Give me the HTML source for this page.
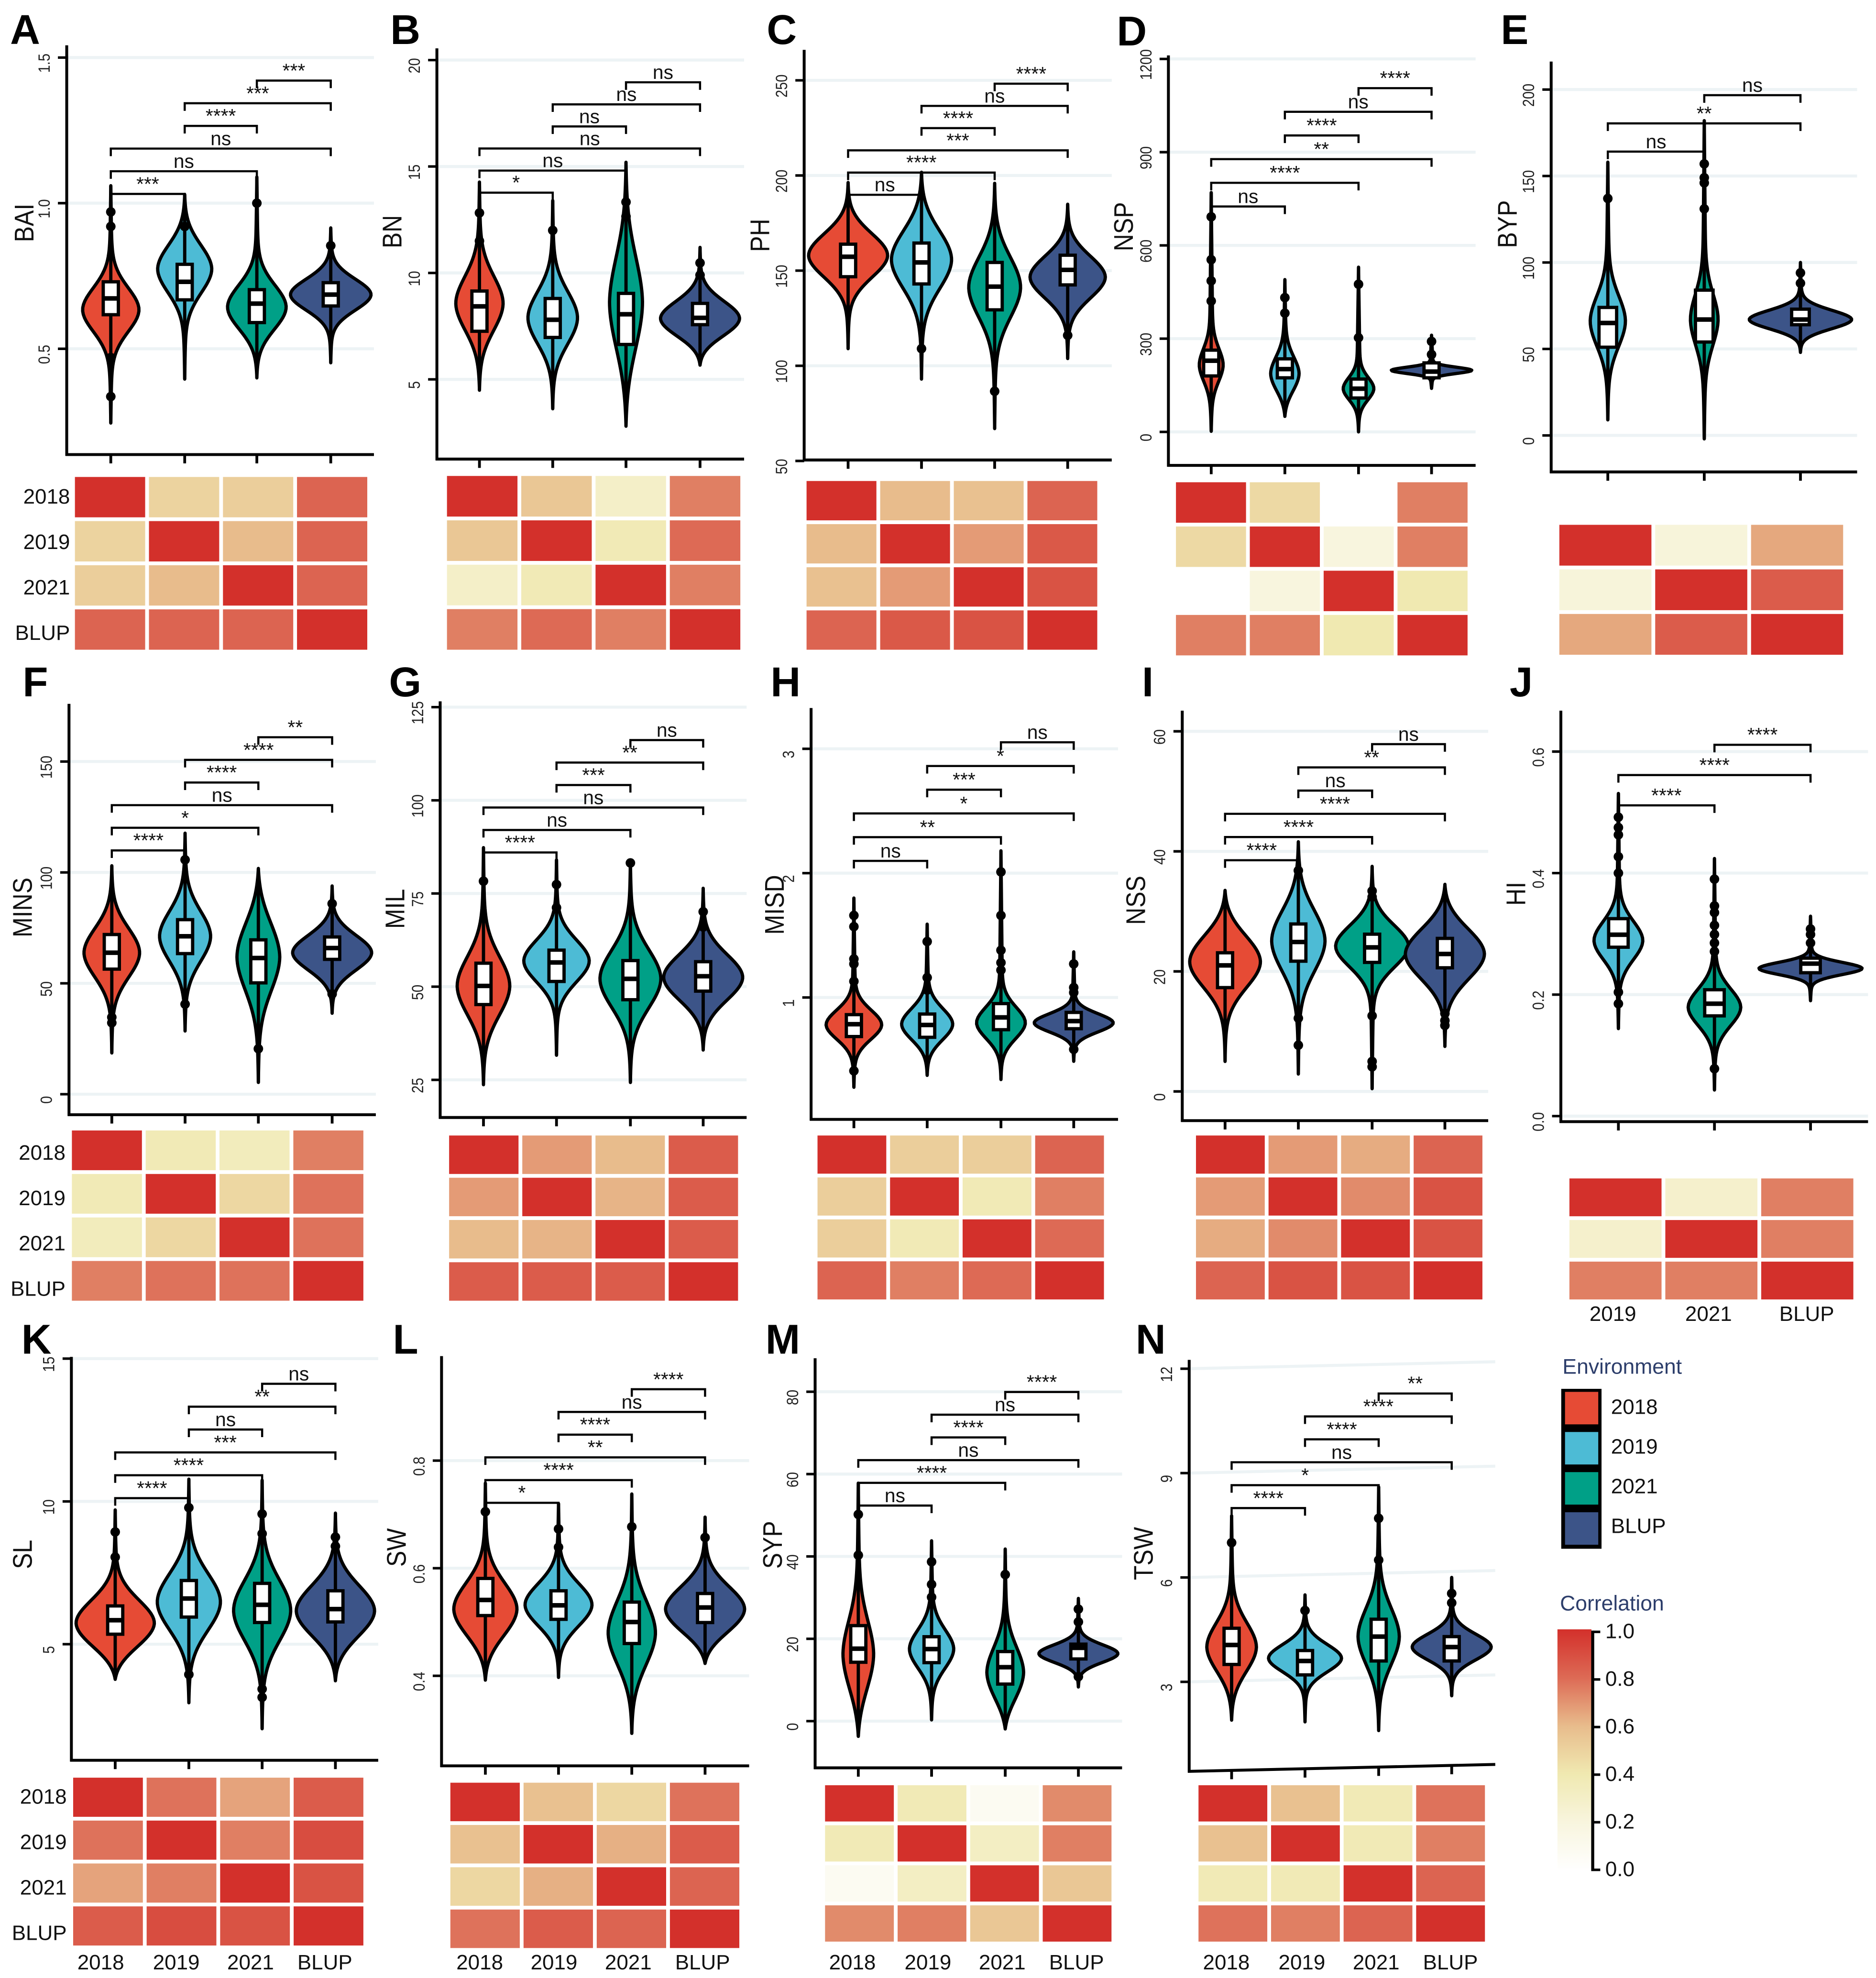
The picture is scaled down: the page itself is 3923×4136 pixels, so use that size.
<!DOCTYPE html>
<html lang="en">
<head>
<meta charset="utf-8">
<title>Violin and correlation panels</title>
<style>
html,body{margin:0;padding:0;background:#fff;}
svg{display:block;font-family:"Liberation Sans",sans-serif;}
</style>
</head>
<body>
<svg id="figure" xmlns="http://www.w3.org/2000/svg" width="3923" height="4136" viewBox="0 0 1490 1570.9">
<defs>
<linearGradient id="corrGrad" x1="0" y1="1" x2="0" y2="0">
<stop offset="0" stop-color="#ffffff"/><stop offset="0.2" stop-color="#f8f5de"/><stop offset="0.4" stop-color="#f0e9b1"/><stop offset="0.6" stop-color="#e8bc8c"/><stop offset="0.8" stop-color="#dd6a55"/><stop offset="1" stop-color="#d3302b"/>
</linearGradient>
</defs>
<rect width="1490" height="1570.9" fill="#fff"/>
</svg>
<script>
/* ---------- data ---------- */
const groups4 = ['2018','2019','2021','BLUP'];
const groups3 = ['2019','2021','BLUP'];
const groupColor = {'2018':'#e64b35','2019':'#4dbbd5','2021':'#00a087','BLUP':'#3c5488'};
const legendTicks = [0,0.2,0.4,0.6,0.8,1];

const BAI_ticks=[0.5,1.0,1.5];
const BAI_lo=[.245,.396,.40,.452];
const BAI_q1=[.617,.668,.59,.647];
const BAI_med=[.673,.73,.655,.686];
const BAI_q3=[.73,.79,.703,.727];
const BAI_hi=[1.06,1.03,1.09,.915];
const BAI_mode=[.634,.774,.643,.686];
const BAI_dens=[.7,.67,.73,1.02];
const BAI_out=[[.97,.92,.336,.47],[.92],[1.0],[.854]];
const BAI_sig=['***','ns','ns','****','***','***'];
const BAI_corr=[.5,.52,.82,.6,.82,.82];

const BN_ticks=[5,10,15,20];
const BN_lo=[4.49,3.62,2.8,5.67];
const BN_q1=[7.26,6.97,6.64,7.57];
const BN_med=[8.43,7.8,8.06,7.89];
const BN_q3=[9.15,8.8,9.04,8.57];
const BN_hi=[14.27,13.4,15.2,11.2];
const BN_mode=[8.57,7.89,8.6,7.86];
const BN_dens=[.58,.61,.39,1];
const BN_out=[[12.82,11.5],[12],[13.33,12.65],[10.47,9.9]];
const BN_sig=['*','ns','ns','ns','ns','ns'];
const BN_corr=[.55,.3,.75,.38,.8,.75];
const BN_sp=[.95,.95,1.25,1.15];

const PH_ticks=[50,100,150,200,250];
const PH_lo=[109,93,67,103.8];
const PH_q1=[146.8,143,129.4,142.5];
const PH_med=[157.3,154.3,141.6,150.4];
const PH_q3=[163.9,164.5,154.3,158.1];
const PH_hi=[196.3,201.7,195.9,184.9];
const PH_mode=[158,155.8,141.3,146.6];
const PH_dens=[1,.75,.64,.95];
const PH_out=[[],[109],[86.6],[116]];
const PH_sig=['ns','****','***','****','ns','****'];
const PH_corr=[.6,.58,.82,.68,.86,.88];
const PH_sp=[.95,1.0,.9,1.0];

const NSP_ticks=[0,300,600,900,1200];
const NSP_lo=[2,50,0,140];
const NSP_q1=[180,174,109,174];
const NSP_med=[229,202,139,194];
const NSP_q3=[263,235,170,222];
const NSP_hi=[770,490,530,311];
const NSP_mode=[215,187,139,198];
const NSP_dens=[.27,.33,.36,1.02];
const NSP_out=[[692,554,486,421],[432,382],[475,303],[291,249]];
const NSP_sig=['ns','****','**','****','ns','****'];
const NSP_corr=[.47,0,.75,.2,.75,.4];
const NSP_sp=[.9,1.25,.83,.3];

const BYP_ticks=[0,50,100,150,200];
const BYP_lo=[9,-2,48];
const BYP_q1=[51,54,64];
const BYP_med=[65,67,67];
const BYP_q3=[74,84,73];
const BYP_hi=[158,182,100];
const BYP_mode=[66,67,67];
const BYP_dens=[.42,.32,1.31];
const BYP_out=[[137],[157,149,146,131],[94,88]];
const BYP_sig=['ns','**','ns'];
const BYP_corr=[.22,.65,.85];
const BYP_sp=[.9,.7,.85];

const MINS_ticks=[0,50,100,150];
const MINS_lo=[18.6,28.5,5.3,36.5];
const MINS_q1=[56.4,63.4,50.2,60.8];
const MINS_med=[63.8,71.2,61.4,65.9];
const MINS_q3=[72,78.7,69.6,70.9];
const MINS_hi=[103,117.7,101.8,93.9];
const MINS_mode=[63.8,71.2,61.9,63.8];
const MINS_dens=[.69,.63,.52,1];
const MINS_out=[[32.2,34.7],[105.7,40.6],[20.5],[85.9,45.2]];
const MINS_sig=['****','*','ns','****','****','**'];
const MINS_corr=[.38,.35,.75,.48,.78,.78];
const MINS_sp=[1.0,1.05,1.1,1.1];

const MIL_ticks=[25,50,75,100,125];
const MIL_lo=[23.7,31.6,24.3,33];
const MIL_q1=[45.2,51.4,46.5,48.8];
const MIL_med=[50.2,56.5,52.1,52.8];
const MIL_q3=[56.3,59.8,57,56.7];
const MIL_hi=[87.3,84,83.8,76.4];
const MIL_mode=[50.2,56.9,52.1,52.5];
const MIL_dens=[.65,.82,.76,1];
const MIL_out=[[78.3],[77.4,71.2],[83.2],[70.1,66]];
const MIL_sig=['****','ns','ns','***','**','ns'];
const MIL_corr=[.68,.6,.85,.62,.85,.85];
const MIL_sp=[1.0,.95,1.05,1.1];

const MISD_ticks=[1,2,3];
const MISD_lo=[.278,.374,.34,.487];
const MISD_q1=[.686,.68,.741,.749];
const MISD_med=[.785,.779,.84,.81];
const MISD_q3=[.862,.867,.951,.88];
const MISD_hi=[1.8,1.59,2.18,1.367];
const MISD_mode=[.781,.785,.796,.796];
const MISD_dens=[.69,.63,.6,1];
const MISD_out=[[1.66,1.57,1.31,1.27,1.13,.41],[1.45,1.16,1.06],[2.01,1.66,1.38,1.28,1.22],[1.27,1.08,1.04,.583]];
const MISD_sig=['ns','**','*','***','*','ns'];
const MISD_corr=[.52,.52,.82,.38,.75,.8];
const MISD_sp=[.95,.95,.85,.8];

const NSS_ticks=[0,20,40,60];
const NSS_lo=[5,2.9,.46,7.5];
const NSS_q1=[17.3,21.7,21.5,20.6];
const NSS_med=[21,24.9,24,22.9];
const NSS_q3=[23.1,27.9,26.2,25.5];
const NSS_hi=[33.5,41.6,37.5,34.5];
const NSS_mode=[21.6,25.1,24.2,22.9];
const NSS_dens=[.89,.66,.92,1];
const NSS_out=[[],[36.8,12.2,7.7],[33.4,32.4,12.6,5,4.1],[13,11.8,11]];
const NSS_sig=['****','****','****','ns','**','ns'];
const NSS_corr=[.68,.64,.82,.72,.88,.88];
const NSS_sp=[1.05,1.15,1.05,1.2];

const HI_ticks=[0,0.2,0.4,0.6];
const HI_lo=[.144,.043,.19];
const HI_q1=[.278,.165,.236];
const HI_med=[.2986,.185,.251];
const HI_q3=[.325,.208,.26];
const HI_hi=[.531,.424,.329];
const HI_mode=[.289,.179,.243];
const HI_dens=[.6,.65,1.32];
const HI_out=[[.492,.475,.463,.427,.40,.204,.185],[.39,.346,.335,.314,.299,.285,.271,.078],[.308,.299,.285]];
const HI_sig=['****','****','****'];
const HI_corr=[.28,.75,.75];
const HI_sp=[.95,1.0,.6];

const SL_ticks=[5,10,15];
const SL_lo=[3.77,2.95,2.04,3.72];
const SL_q1=[5.35,5.95,5.76,5.78];
const SL_med=[5.84,6.6,6.38,6.23];
const SL_q3=[6.34,7.23,7.13,6.87];
const SL_hi=[9.7,10.78,10.74,9.59];
const SL_mode=[5.74,6.48,6.18,6.17];
const SL_dens=[.99,.79,.71,.99];
const SL_out=[[8.93,8.05],[9.78,3.94],[9.56,8.87,3.43,3.14],[8.75,8.43]];
const SL_sig=['****','****','***','ns','**','ns'];
const SL_corr=[.78,.66,.85,.75,.9,.88];
const SL_sp=[1.15,1.1,1.1,1.15];

const SW_ticks=[0.4,0.6,0.8];
const SW_lo=[.392,.397,.293,.423];
const SW_q1=[.512,.505,.46,.499];
const SW_med=[.541,.531,.50,.527];
const SW_q3=[.581,.558,.537,.553];
const SW_hi=[.758,.72,.738,.695];
const SW_mode=[.524,.532,.48,.524];
const SW_dens=[.79,.84,.58,1];
const SW_out=[[.705],[.673,.639],[.677],[.657]];
const SW_sig=['*','****','**','****','ns','****'];
const SW_corr=[.58,.48,.78,.63,.85,.82];
const SW_sp=[1.0,1.05,1.1,1.1];

const SYP_ticks=[0,20,40,60,80];
const SYP_lo=[-3.7,.3,-1.9,8.3];
const SYP_q1=[14.3,14.2,9,15.1];
const SYP_med=[17.6,17.5,13.1,17.8];
const SYP_q3=[23.2,20.5,16.9,18.7];
const SYP_hi=[57.8,43.8,41.8,29.8];
const SYP_mode=[16.2,17.5,11.8,16.4];
const SYP_dens=[.36,.54,.44,1];
const SYP_out=[[50.2,40.3],[38.7,33.2,30.1],[35.6],[27.2,24.1,10.8]];
const SYP_sig=['ns','****','ns','****','ns','****'];
const SYP_corr=[.38,.08,.72,.32,.75,.55];
const SYP_sp=[1.3,1.05,1.1,.85];

const TSW_ticks=[3,6,9,12];
const TSW_lo=[1.9,1.85,1.6,2.6];
const TSW_q1=[3.5,3.2,3.6,3.6];
const TSW_med=[4.06,3.6,4.3,4];
const TSW_q3=[4.54,3.9,4.8,4.3];
const TSW_hi=[7.77,5.5,8.6,6];
const TSW_mode=[4.0,3.68,4.3,4];
const TSW_dens=[.61,.92,.5,1];
const TSW_out=[[7],[5.05],[7.7,6.5],[5.54,5.27]];
const TSW_sig=['****','*','ns','****','****','**'];
const TSW_corr=[.58,.38,.78,.38,.75,.82];
const TSW_sp=[.95,.8,.95,.75];

/* ---------- layout (pixels in a 1490-wide canvas) ---------- */
const panels=[
{id:'a',L:'A',lx:8,ly:35,t:'BAI',tx:19,ty:177,ax:53,top:36,bot:361,right:297,vx:[88,146.7,204,262.7],yA:[0.5,277],yB:[1.5,45.7],br:[154,-18],hm:[59.5,378.8,291.7,516],rows:55.6,rowY:394,ticks:BAI_ticks,lo:BAI_lo,q1:BAI_q1,med:BAI_med,q3:BAI_q3,hi:BAI_hi,mode:BAI_mode,dens:BAI_dens,out:BAI_out,sig:BAI_sig,corr:BAI_corr},
{id:'b',L:'B',lx:310,ly:35,t:'BN',tx:311.3,ty:184,ax:347,top:38.4,bot:364.6,right:591,vx:[380.8,439,497.2,556],yA:[5,301.3],yB:[20,47.7],br:[153,-17.53],hm:[355,378,588,516],ticks:BN_ticks,lo:BN_lo,q1:BN_q1,med:BN_med,q3:BN_q3,hi:BN_hi,mode:BN_mode,dens:BN_dens,out:BN_out,sig:BN_sig,corr:BN_corr,sp:BN_sp},
{id:'c',L:'C',lx:609,ly:35,t:'PH',tx:603.5,ty:186.9,ax:638.7,top:39.6,bot:365.3,right:883,vx:[673.6,731.9,790,848],yA:[100,290.5],yB:[250,63.8],br:[154.7,-17.65],hm:[640.6,382,871.5,516],ticks:PH_ticks,lo:PH_lo,q1:PH_q1,med:PH_med,q3:PH_q3,hi:PH_hi,mode:PH_mode,dens:PH_dens,out:PH_out,sig:PH_sig,corr:PH_corr,sp:PH_sp},
{id:'d',L:'D',lx:887,ly:36,t:'NSP',tx:892.3,ty:180,ax:928,top:44,bot:369.6,right:1172,vx:[962,1020.5,1079,1137],yA:[0,343],yB:[1200,46.8],br:[164,-18.8],hm:[934,383,1165.6,520.5],ticks:NSP_ticks,lo:NSP_lo,q1:NSP_q1,med:NSP_med,q3:NSP_q3,hi:NSP_hi,mode:NSP_mode,dens:NSP_dens,out:NSP_out,sig:NSP_sig,corr:NSP_corr,sp:NSP_sp},
{id:'e',L:'E',lx:1192,ly:35,t:'BYP',tx:1197,ty:178,ax:1232,top:48.9,bot:374.8,right:1475,vx:[1277,1353.6,1430],yA:[0,345.8],yB:[200,71.1],br:[120.4,-22.4],hm:[1238.5,416.8,1463.9,520],g:groups3,bw:14,ticks:BYP_ticks,lo:BYP_lo,q1:BYP_q1,med:BYP_med,q3:BYP_q3,hi:BYP_hi,mode:BYP_mode,dens:BYP_dens,out:BYP_out,sig:BYP_sig,corr:BYP_corr,sp:BYP_sp},
{id:'f',L:'F',lx:18,ly:553,t:'MINS',tx:17.8,ty:720.7,ax:54.8,top:559,bot:885.3,right:298.5,vx:[88.8,147,205.2,263.8],yA:[0,869],yB:[150,604.8],br:[675.4,-17.98],hm:[57.1,897.8,288.6,1033],rows:52,rowY:915,ticks:MINS_ticks,lo:MINS_lo,q1:MINS_q1,med:MINS_med,q3:MINS_q3,hi:MINS_hi,mode:MINS_mode,dens:MINS_dens,out:MINS_out,sig:MINS_sig,corr:MINS_corr,sp:MINS_sp},
{id:'g',L:'G',lx:309,ly:553,t:'MIL',tx:313.7,ty:721.8,ax:349.6,top:557,bot:887.5,right:593,vx:[384,442,500.7,558.5],yA:[25,857.6],yB:[125,561.6],br:[677,-17.85],hm:[356.7,901.8,586.2,1033],ticks:MIL_ticks,lo:MIL_lo,q1:MIL_q1,med:MIL_med,q3:MIL_q3,hi:MIL_hi,mode:MIL_mode,dens:MIL_dens,out:MIL_out,sig:MIL_sig,corr:MIL_corr,sp:MIL_sp},
{id:'h',L:'H',lx:612,ly:553,t:'MISD',tx:615,ty:718.6,ax:644.2,top:562.3,bot:889,right:888,vx:[678.2,736.4,795,852.8],yA:[1,792.2],yB:[3,594.7],br:[683.7,-18.84],hm:[649.3,901.8,876.8,1032],ticks:MISD_ticks,lo:MISD_lo,q1:MISD_q1,med:MISD_med,q3:MISD_q3,hi:MISD_hi,mode:MISD_mode,dens:MISD_dens,out:MISD_out,sig:MISD_sig,corr:MISD_corr,sp:MISD_sp},
{id:'i',L:'I',lx:907,ly:553,t:'NSS',tx:902,ty:715,ax:939,top:564.4,bot:890,right:1182,vx:[973,1031.2,1089.8,1147.6],yA:[0,866.8],yB:[60,580.8],br:[683.2,-18.44],hm:[949.9,901.8,1177.4,1032],ticks:NSS_ticks,lo:NSS_lo,q1:NSS_q1,med:NSS_med,q3:NSS_q3,hi:NSS_hi,mode:NSS_mode,dens:NSS_dens,out:NSS_out,sig:NSS_sig,corr:NSS_corr,sp:NSS_sp},
{id:'j',L:'J',lx:1199,ly:553,t:'HI',tx:1204,ty:709.8,ax:1239.7,top:564.4,bot:890.8,right:1483.7,vx:[1285.4,1361.7,1438],yA:[0,886.4],yB:[0.6,596.9],br:[639.6,-24.05],hm:[1246.5,935.9,1472,1032],g:groups3,bw:15.5,cols:[1281,1357,1435],colY:1049,ticks:HI_ticks,lo:HI_lo,q1:HI_q1,med:HI_med,q3:HI_q3,hi:HI_hi,mode:HI_mode,dens:HI_dens,out:HI_out,sig:HI_sig,corr:HI_corr,sp:HI_sp},
{id:'k',L:'K',lx:17,ly:1075,t:'SL',tx:17.8,ty:1234.5,ax:56.7,top:1077.6,bot:1398,right:300.4,vx:[91.5,150,208.2,266.4],yA:[5,1305.8],yB:[15,1079],br:[1189.8,-18.16],hm:[58.1,1411.8,288.6,1545.1],rows:53,rowY:1426.5,cols:[80,140,199,258],colY:1564,ticks:SL_ticks,lo:SL_lo,q1:SL_q1,med:SL_med,q3:SL_q3,hi:SL_hi,mode:SL_mode,dens:SL_dens,out:SL_out,sig:SL_sig,corr:SL_corr,sp:SL_sp},
{id:'l',L:'L',lx:312,ly:1075,t:'SW',tx:314.8,ty:1229,ax:350.7,top:1077,bot:1402.4,right:595,vx:[385.5,443.6,501.8,560],yA:[0.4,1330.9],yB:[0.8,1160],br:[1193.5,-18.04],hm:[357.7,1415.8,587.2,1547.1],cols:[381,440,499,558],colY:1564,ticks:SW_ticks,lo:SW_lo,q1:SW_q1,med:SW_med,q3:SW_q3,hi:SW_hi,mode:SW_mode,dens:SW_dens,out:SW_out,sig:SW_sig,corr:SW_corr,sp:SW_sp},
{id:'m',L:'M',lx:608,ly:1075,t:'SYP',tx:613.5,ty:1226.9,ax:647.4,top:1078.7,bot:1404,right:891.2,vx:[681.7,739.9,798.4,856.5],yA:[0,1366.9],yB:[80,1105.3],br:[1195.7,-18.04],hm:[655.3,1417.8,882.8,1542],cols:[677,737,796,855],colY:1564,ticks:SYP_ticks,lo:SYP_lo,q1:SYP_q1,med:SYP_med,q3:SYP_q3,hi:SYP_hi,mode:SYP_mode,dens:SYP_dens,out:SYP_out,sig:SYP_sig,corr:SYP_corr,sp:SYP_sp},
{id:'n',L:'N',lx:902,ly:1075,t:'TSW',tx:908,ty:1233.8,ax:944.5,top:1080,bot:1406.8,right:1187.6,tilt:-5.5,vx:[978.2,1036.5,1095,1153],yA:[3,1335.7],yB:[12,1087],br:[1197.7,-18.2],hm:[951.9,1417.8,1179.4,1542],cols:[974,1034,1093,1152],colY:1564,ticks:TSW_ticks,lo:TSW_lo,q1:TSW_q1,med:TSW_med,q3:TSW_q3,hi:TSW_hi,mode:TSW_mode,dens:TSW_dens,out:TSW_out,sig:TSW_sig,corr:TSW_corr,sp:TSW_sp}
];

/* ---------- helpers ---------- */
const NS='http://www.w3.org/2000/svg';
const svg=document.getElementById('figure');
function mk(tag,attrs,parent,txt){
  const e=document.createElementNS(NS,tag);
  for(const k in attrs)e.setAttribute(k,attrs[k]);
  if(txt!==undefined)e.textContent=txt;
  parent.appendChild(e);
  return e;
}
function yScale(p){
  const k=(p.yB[1]-p.yA[1])/(p.yB[0]-p.yA[0]);
  return v=>p.yA[1]+(v-p.yA[0])*k;
}
const corrStops=[[0,[255,255,255]],[.2,[248,245,222]],[.4,[240,233,177]],[.6,[232,188,140]],[.8,[221,106,85]],[1,[211,48,43]]];
function corrColor(v){
  for(let i=1;i<corrStops.length;i++){
    if(v<=corrStops[i][0]){
      const a=corrStops[i-1],b=corrStops[i],t=(v-a[0])/(b[0]-a[0]);
      return 'rgb('+a[1].map((c,j)=>Math.round(c+(b[1][j]-c)*t)).join(',')+')';
    }
  }
  return 'rgb(211,48,43)';
}
function violinPath(p,i,y,cx){
  const lo=p.lo[i],hi=p.hi[i],m=p.mode[i],n=70;
  const s=(p.sp?p.sp[i]:0.95)*(p.q3[i]-p.q1[i]);
  const hw=v=>{
    const d=Math.abs(v-m),R=(v>m?hi-m:m-lo)||1e-6,f=Math.min(1,d/R);
    return 30*p.dens[i]*Math.exp(-Math.pow(d/s,1.95))*(1-Math.pow(f,4))+1.4*(1-f);
  };
  let right='',left='';
  for(let k=0;k<=n;k++){
    const v=hi+(lo-hi)*k/n,w=hw(v);
    right+=(k?'L':'M')+(cx+w).toFixed(2)+' '+y(v).toFixed(2);
    left='L'+(cx-w).toFixed(2)+' '+y(v).toFixed(2)+left;
  }
  return right+left+'Z';
}

/* ---------- draw panels ---------- */
panels.forEach(p=>{
  const g=p.g||groups4,y=yScale(p),tilt=p.tilt||0,pairs=g.length===4?[[0,1],[0,2],[0,3],[1,2],[1,3],[2,3]]:[[0,1],[0,2],[1,2]];
  const root=mk('g',{},svg);
  
  

  const letter=mk('text',{x:p.lx,y:p.ly,'font-size':33,'font-weight':'bold',fill:'#000'},root,p.L);
  
  

  p.ticks.forEach(t=>{
    const yy=y(t);
    const grid=mk('line',{x1:p.ax,y1:yy,x2:p.right,y2:yy+tilt,stroke:'#edf3f5','stroke-width':2.4},root);
    
    
    const tick=mk('line',{x1:p.ax-7,y1:yy,x2:p.ax,y2:yy,stroke:'#000','stroke-width':2},root);
    
    
    const lab=mk('text',{transform:'translate('+(p.ax-13.5)+','+(yy+4.5)+') rotate(-90) scale(1,1.18)','text-anchor':'middle','font-size':11,fill:'#222'},root,String(t%1===0&&p.ticks.some(q=>q%1!==0)?t.toFixed(1):t));
    
    
  });

  const yAxis=mk('line',{x1:p.ax,y1:p.top,x2:p.ax,y2:p.bot+1,stroke:'#000','stroke-width':2.3},root);
  
  
  const xAxis=mk('line',{x1:p.ax-1,y1:p.bot,x2:p.right,y2:p.bot+tilt,stroke:'#000','stroke-width':2.3},root);
  
  
  const title=mk('text',{transform:'translate('+(p.tx+7.5)+','+p.ty+') rotate(-90) scale(1,1.14)','text-anchor':'middle','font-size':19,fill:'#111'},root,p.t);
  
  

  g.forEach((name,i)=>{
    const cx=p.vx[i],bw=p.bw||12;
    const xt=mk('line',{x1:cx,y1:p.bot+tilt*(cx-p.ax)/(p.right-p.ax),x2:cx,y2:p.bot+7+tilt*(cx-p.ax)/(p.right-p.ax),stroke:'#000','stroke-width':2.2},root);
    
    
    const vio=mk('path',{d:violinPath(p,i,y,cx),fill:groupColor[name],stroke:'#000','stroke-width':2.6,'stroke-linejoin':'round'},root);
    
    
    const whisk=mk('line',{x1:cx,y1:y(p.hi[i]),x2:cx,y2:y(p.lo[i]),stroke:'#000','stroke-width':2.6},root);
    
    
    p.out[i].forEach(v=>{
      const dot=mk('circle',{cx:cx,cy:y(v),r:3.8,fill:'#000'},root);
      
      
    });
    const box=mk('rect',{x:cx-bw/2,y:y(p.q3[i]),width:bw,height:y(p.q1[i])-y(p.q3[i]),fill:'#fff',stroke:'#000','stroke-width':2.6},root);
    
    
    const med=mk('line',{x1:cx-bw/2,y1:y(p.med[i]),x2:cx+bw/2,y2:y(p.med[i]),stroke:'#000','stroke-width':3.6},root);
    
    
  });

  pairs.forEach((pr,i)=>{
    const by=p.br[0]+i*p.br[1],x1=p.vx[pr[0]],x2=p.vx[pr[1]];
    const br=mk('path',{d:'M'+x1+' '+(by+6)+'V'+by+'H'+x2+'V'+(by+6),fill:'none',stroke:'#000','stroke-width':1.7},root);
    
    
    const sl=mk('text',{x:(x1+x2)/2,y:by-2.7,'text-anchor':'middle','font-size':15.5,fill:'#111'},root,p.sig[i]);
    
    
  });

  const n=g.length,gap=3,hx0=p.hm[0],hy0=p.hm[1],cw=(p.hm[2]-hx0-gap*(n-1))/n,ch=(p.hm[3]-hy0-gap*(n-1))/n;
  let idx=0;const m=g.map(()=>g.map(()=>1));
  for(let a=0;a<n;a++)for(let b=a+1;b<n;b++){m[a][b]=m[b][a]=p.corr[idx++];}
  for(let r=0;r<n;r++){
    for(let c=0;c<n;c++){
      const cell=mk('rect',{x:hx0+c*(cw+gap),y:hy0+r*(ch+gap),width:cw,height:ch,fill:corrColor(m[r][c])},root);
      
      
    }
    if(p.rows){
      const rl=mk('text',{x:p.rows,y:p.rowY+r*36.05+6,'text-anchor':'end','font-size':16.7,fill:'#111'},root,g[r]);
      
      
    }
  }
  if(p.cols){
    g.forEach((name,i)=>{
      const cl=mk('text',{x:p.cols[i],y:p.colY,'text-anchor':'middle','font-size':16.7,fill:'#111'},root,name);
      
      
    });
  }
});

/* ---------- legends ---------- */
const lg=mk('g',{},svg);


const lgTitle=mk('text',{x:1241,y:1091,'font-size':16.9,fill:'#2d3e6b'},lg,'Environment');


const lgBack=mk('rect',{x:1240,y:1103,width:32,height:127,fill:'#000'},lg);


groups4.forEach((name,i)=>{
  const sw=mk('rect',{x:1243,y:1105.4+i*31.87,width:26.4,height:25.8,fill:groupColor[name]},lg);
  
  
  const t=mk('text',{x:1279.5,y:1123+i*31.5,'font-size':16.7,fill:'#111'},lg,name);
  
  
});
const cb=mk('g',{},svg);


const cbTitle=mk('text',{x:1239,y:1279,'font-size':16.9,fill:'#2d3e6b'},cb,'Correlation');


const cbBar=mk('rect',{x:1237,y:1294,width:27,height:192,fill:'url(#corrGrad)'},cb);


const cbAxis=mk('line',{x1:1265,y1:1295,x2:1265,y2:1486,stroke:'#000','stroke-width':2.4},cb);


const cbY=v=>1485-v*189;
legendTicks.forEach(v=>{
  const tk=mk('line',{x1:1265,y1:cbY(v),x2:1271,y2:cbY(v),stroke:'#000','stroke-width':2},cb);
  
  
  const lb=mk('text',{x:1275,y:cbY(v)+5,'font-size':16.7,fill:'#111'},cb,v.toFixed(1));
  
  
});
</script>
</body>
</html>
